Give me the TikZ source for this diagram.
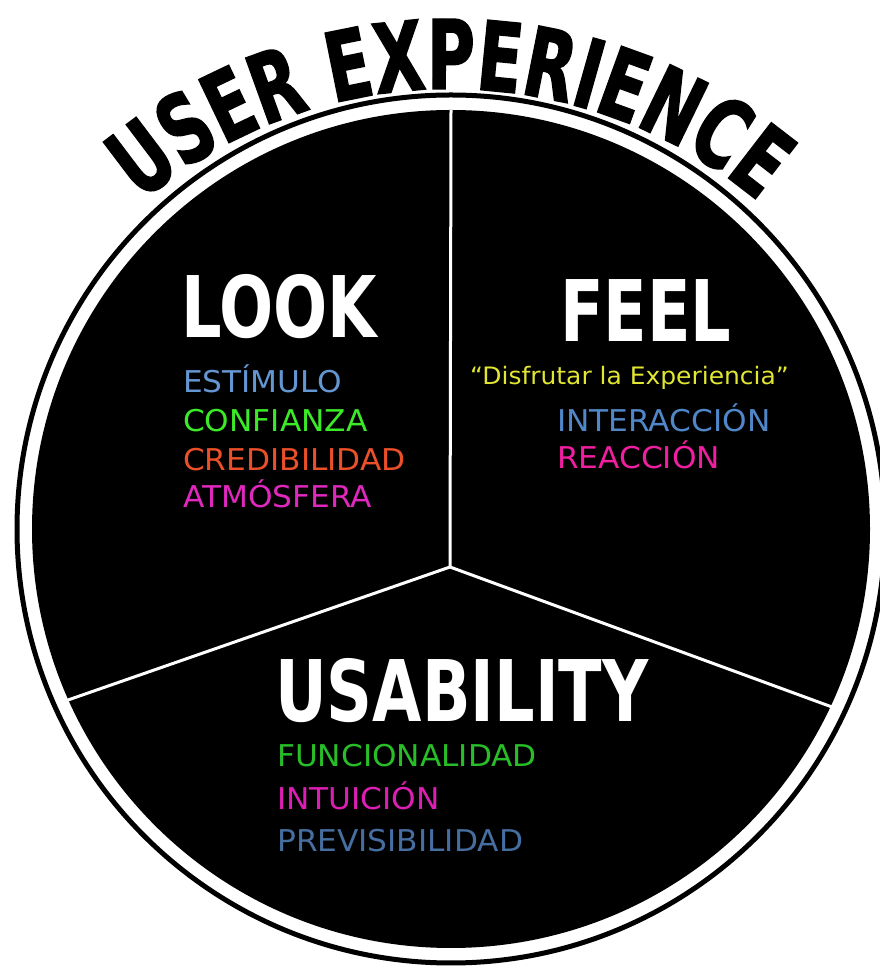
\documentclass[tikz,border=0pt]{standalone}
\usepackage{fontspec}
\usepackage{tikz}
\usetikzlibrary{calc,decorations.text}
\newfontfamily\titlefont[FakeStretch=0.68,FakeBold=1.5]{DejaVu Sans Bold}
\newfontfamily\headfont[FakeStretch=0.75]{DejaVu Sans Bold}
\newfontfamily\listfont[FakeStretch=1.04]{DejaVu Sans}
\newcommand{\titlesize}{\titlefont\fontsize{96}{96}\selectfont}
\definecolor{skyblue}{RGB}{100,150,210}
\definecolor{limegreen}{RGB}{60,235,40}
\definecolor{flame}{RGB}{235,80,40}
\definecolor{orchid}{RGB}{225,40,190}
\definecolor{lemon}{RGB}{225,230,50}
\definecolor{steel}{RGB}{80,135,200}
\definecolor{rosepink}{RGB}{240,30,160}
\definecolor{grass}{RGB}{40,190,40}
\definecolor{fuchsia}{RGB}{220,30,180}
\definecolor{slate}{RGB}{70,110,160}
\tikzset{
  heading/.style={anchor=base west, inner sep=0pt, text=white, font=\headfont\fontsize{85}{85}\selectfont},
  item/.style={anchor=base west, inner sep=0pt, font=\listfont\fontsize{30}{30}\selectfont},
  divider/.style={white, line width=3pt}
}

\begin{document}
\begin{tikzpicture}[x=1pt,y=1pt]
            \useasboundingbox (0,0) rectangle (879,969);
            \fill[white] (0,0) rectangle (879,969);
            \coordinate (centre) at (451,440);
            \coordinate (hub) at (450,402);
            \coordinate (top) at (451,859);
            \coordinate (leftend) at (68,269);
            \coordinate (rightend) at (832,262);
            \draw[line width=5pt] (centre) circle (434);
            \fill (centre) circle (419);
            \draw[divider] (hub)--(top);
            \draw[divider] (hub)--(leftend);
            \draw[divider] (hub)--(rightend);
            \path[decorate, decoration={text along path, text align=center, text={|\titlesize|USER EXPERIENCE}}] ($(hub)+(135:478)$) arc (135:45:478);
            \node[heading] (look) at (181,631) {LOOK};
            \node[heading] (feel) at (560,627) {FEEL};
            \node[heading] (usab) at (275,247) {USABILITY};
            \node[item, text=skyblue] (estimulo) at (183,576) {ESTÍMULO};
            \node[item, text=limegreen] (confianza) at (183,537) {CONFIANZA};
            \node[item, text=flame] (credibilidad) at (183,498) {CREDIBILIDAD};
            \node[item, text=orchid] (atmosfera) at (183,461) {ATMÓSFERA};
            \node[item, text=lemon, font=\listfont\fontsize{24}{24}\selectfont] (lema) at (470,584) {“Disfrutar la Experiencia”};
            \node[item, text=steel] (interaccion) at (557,537) {INTERACCIÓN};
            \node[item, text=rosepink] (reaccion) at (557,500) {REACCIÓN};
            \node[item, text=grass] (funcionalidad) at (277,202) {FUNCIONALIDAD};
            \node[item, text=fuchsia] (intuicion) at (277,159) {INTUICIÓN};
            \node[item, text=slate] (previsibilidad) at (277,117) {PREVISIBILIDAD};
        \end{tikzpicture}
\end{document}
